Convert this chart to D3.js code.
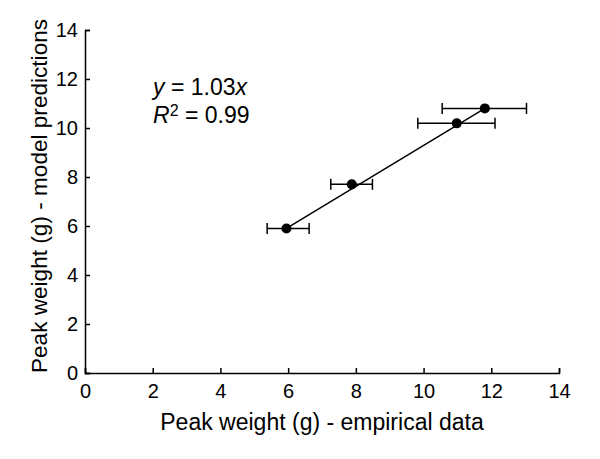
<!DOCTYPE html>
<html>
<head>
<meta charset="utf-8">
<script src="https://cdn.jsdelivr.net/npm/d3@7"></script>
<style>
  body { margin: 0; background: #fff; }
  svg text { font-family: "Liberation Sans", Arial, sans-serif; fill: #000; }
</style>
</head>
<body>
<svg id="chart" width="600" height="459"></svg>
<script>
// data
var empirical = [5.95, 7.88, 10.98, 11.81];
var predicted = [5.9, 7.7, 10.19, 10.8];
var errLow = [5.38, 7.26, 9.83, 10.55];
var errHigh = [6.62, 8.49, 12.11, 13.04];
var fitX = [5.95, 11.81];
var fitY = [5.9, 10.8];
var xTicks = [0, 2, 4, 6, 8, 10, 12, 14];
var yTicks = [0, 2, 4, 6, 8, 10, 12, 14];

var svg = d3.select('#chart');
var mLeft = 85, mRight = 559, mTop = 30, mBottom = 373;

var x = d3.scaleLinear().domain([0, 14]).range([mLeft, mRight]);
var y = d3.scaleLinear().domain([0, 14]).range([mBottom, mTop]);

// axes with inward ticks
var xAxis = svg.append('g')
	.attr('transform', 'translate(0,' + mBottom + ')')
	.call(d3.axisBottom(x).tickValues(xTicks).tickSizeInner(-5).tickSizeOuter(-5).tickPadding(10));
var yAxis = svg.append('g')
	.attr('transform', 'translate(' + mLeft + ',0)')
	.call(d3.axisLeft(y).tickValues(yTicks).tickSizeInner(-5).tickSizeOuter(-5).tickPadding(7));

[xAxis, yAxis].forEach(function(a) {
	a.select('.domain').attr('stroke', '#000').attr('stroke-width', 1.5);
	a.selectAll('.tick line').attr('stroke', '#000').attr('stroke-width', 1.5);
	a.selectAll('.tick text').style('font-size', '20px').style('font-family', '"Liberation Sans", Arial, sans-serif');
});
xAxis.selectAll('.tick text').attr('dy', '0.75em');

// axis titles
svg.append('text')
	.attr('x', (mLeft + mRight) / 2)
	.attr('y', 430)
	.attr('text-anchor', 'middle')
	.style('font-size', '23px')
	.text('Peak weight (g) - empirical data');
svg.append('text')
	.attr('transform', 'translate(47,196) rotate(-90)')
	.attr('text-anchor', 'middle')
	.style('font-size', '22.6px')
	.text('Peak weight (g) - model predictions');

// fit line
svg.append('line')
	.attr('x1', x(fitX[0])).attr('y1', y(fitY[0]))
	.attr('x2', x(fitX[1])).attr('y2', y(fitY[1]))
	.attr('stroke', '#000').attr('stroke-width', 1.5);

var idx = d3.range(empirical.length);

// horizontal error bars
var eb = svg.append('g').attr('stroke', '#000').attr('stroke-width', 1.5);
idx.forEach(function(i) {
	var yy = y(predicted[i]);
	eb.append('line').attr('x1', x(errLow[i])).attr('x2', x(errHigh[i])).attr('y1', yy).attr('y2', yy);
	eb.append('line').attr('x1', x(errLow[i])).attr('x2', x(errLow[i])).attr('y1', yy - 5.5).attr('y2', yy + 5.5);
	eb.append('line').attr('x1', x(errHigh[i])).attr('x2', x(errHigh[i])).attr('y1', yy - 5.5).attr('y2', yy + 5.5);
});

// points
svg.selectAll('circle.pt')
	.data(idx)
	.enter()
	.append('circle')
	.attr('class', 'pt')
	.attr('cx', function(i) { return x(empirical[i]); })
	.attr('cy', function(i) { return y(predicted[i]); })
	.attr('r', 5)
	.attr('fill', '#000');

// annotation
var t1 = svg.append('text').attr('x', 153).attr('y', 95).style('font-size', '23px');
t1.append('tspan').style('font-style', 'italic').text('y');
t1.append('tspan').text(' = 1.03');
t1.append('tspan').style('font-style', 'italic').text('x');
var t2 = svg.append('text').attr('x', 153).attr('y', 123).style('font-size', '23px');
t2.append('tspan').style('font-style', 'italic').text('R');
t2.append('tspan').style('font-size', '16px').attr('dy', -7).text('2');
t2.append('tspan').attr('dy', 7).text(' = 0.99');
</script>
</body>
</html>
